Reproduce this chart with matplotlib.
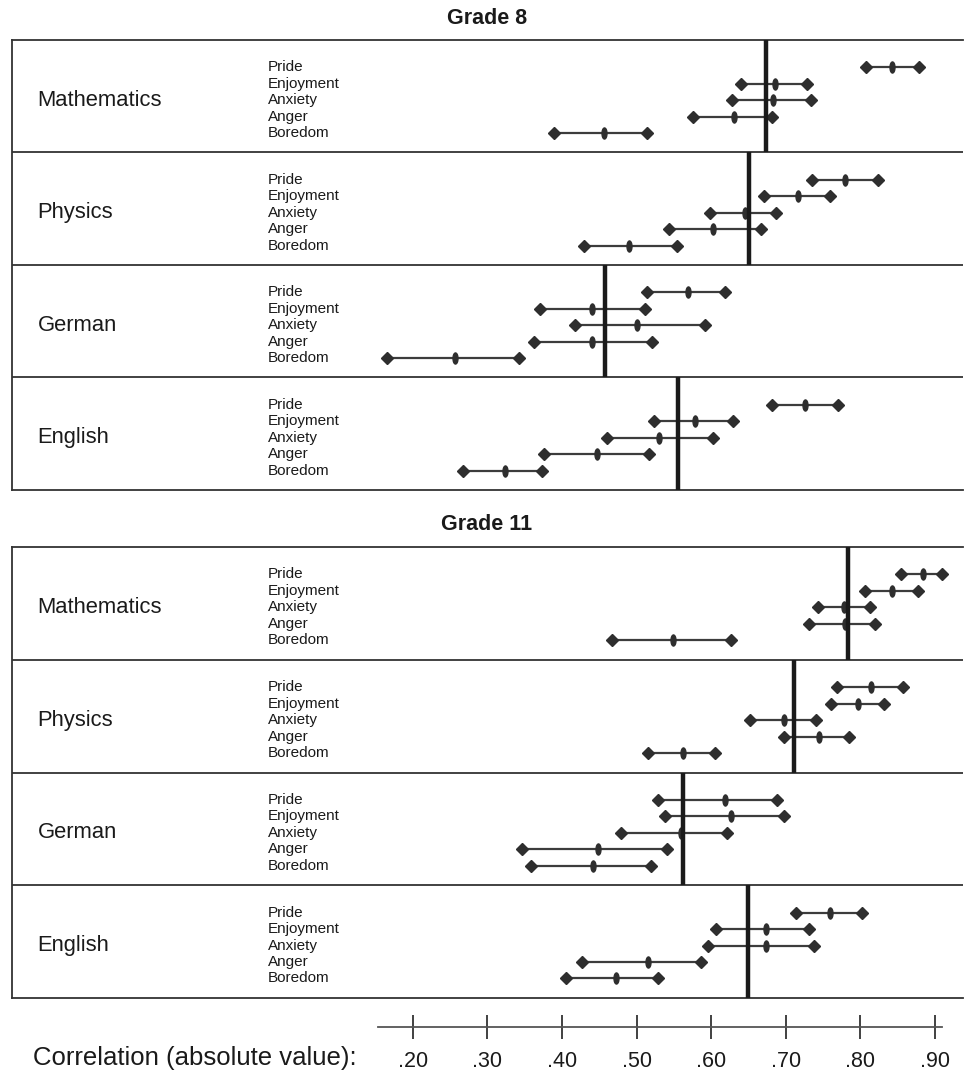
import matplotlib
matplotlib.use("Agg")
import matplotlib.pyplot as plt
import matplotlib.path as mpath
from matplotlib.transforms import Affine2D, blended_transform_factory

plt.rcParams['font.family'] = ['Liberation Sans', 'DejaVu Sans']

subjects = ["Mathematics", "Physics", "German", "English"]
emotions = ["Pride", "Enjoyment", "Anxiety", "Anger", "Boredom"]
tick_values = [0.20, 0.30, 0.40, 0.50, 0.60, 0.70, 0.80, 0.90]
tick_labels = [".20", ".30", ".40", ".50", ".60", ".70", ".80", ".90"]

# Grade 8: lower bound, estimate, upper bound per subject (rows = emotions)
g8_low = [
    [0.807, 0.640, 0.628, 0.575, 0.390],
    [0.735, 0.671, 0.599, 0.543, 0.430],
    [0.514, 0.370, 0.417, 0.362, 0.165],
    [0.681, 0.523, 0.460, 0.376, 0.267],
]
g8_mid = [
    [0.842, 0.685, 0.683, 0.630, 0.456],
    [0.779, 0.717, 0.645, 0.603, 0.490],
    [0.569, 0.440, 0.501, 0.440, 0.257],
    [0.726, 0.579, 0.530, 0.447, 0.324],
]
g8_high = [
    [0.879, 0.728, 0.734, 0.681, 0.514],
    [0.823, 0.759, 0.687, 0.667, 0.554],
    [0.619, 0.511, 0.592, 0.521, 0.342],
    [0.770, 0.629, 0.602, 0.517, 0.373],
]
g8_ref = [0.674, 0.651, 0.458, 0.556]

# Grade 11
g11_low = [
    [0.855, 0.806, 0.743, 0.731, 0.467],
    [0.769, 0.761, 0.652, 0.697, 0.516],
    [0.529, 0.538, 0.479, 0.346, 0.359],
    [0.714, 0.606, 0.596, 0.427, 0.405],
]
g11_mid = [
    [0.884, 0.842, 0.778, 0.780, 0.549],
    [0.814, 0.797, 0.698, 0.744, 0.562],
    [0.618, 0.627, 0.560, 0.449, 0.442],
    [0.759, 0.674, 0.673, 0.516, 0.472],
]
g11_high = [
    [0.910, 0.877, 0.813, 0.820, 0.626],
    [0.857, 0.831, 0.741, 0.785, 0.605],
    [0.688, 0.697, 0.621, 0.541, 0.519],
    [0.802, 0.731, 0.738, 0.587, 0.529],
]
g11_ref = [0.784, 0.711, 0.562, 0.650]

W, H = 964, 1075
fig = plt.figure(figsize=(W / 100, H / 100), dpi=100)

XL = (-0.337, 0.9375)
AX_L, AX_R = 12, 963

ellipse = mpath.Path.unit_circle().transformed(Affine2D().scale(0.45, 1.0))
dark = "#2e2e2e"
linec = "#3c3c3c"


def frac(px_l, px_top, px_r, px_bot):
    return [px_l / W, 1 - px_bot / H, (px_r - px_l) / W, (px_bot - px_top) / H]


def draw_grade(top, bot, title, low, mid, high, ref):
    ax = fig.add_axes(frac(AX_L, top, AX_R, bot))
    ax.set_xlim(*XL)
    ax.set_ylim(4, 0)
    ax.set_xticks([])
    ax.set_yticks([])
    for s in ["top", "bottom", "left"]:
        ax.spines[s].set_linewidth(1.3)
        ax.spines[s].set_color("#333333")
    ax.spines["right"].set_visible(False)
    for k in range(1, 4):
        ax.axhline(k, color="#333333", lw=1.3)
    tr = blended_transform_factory(ax.transAxes, ax.transData)
    for p, subj in enumerate(subjects):
        ys = [p + 0.243 + i * 0.146 for i in range(len(emotions))]
        for i in range(len(emotions)):
            ax.plot([low[p][i], high[p][i]], [ys[i], ys[i]], color=linec, lw=1.6,
                    solid_capstyle="butt", zorder=2)
        ax.plot(low[p], ys, ls="none", marker="D", ms=6.5, color=dark, zorder=3)
        ax.plot(high[p], ys, ls="none", marker="D", ms=6.5, color=dark, zorder=3)
        ax.plot(mid[p], ys, ls="none", marker=ellipse, ms=8, color=dark, zorder=3)
        ax.plot([ref[p], ref[p]], [p, p + 1], color="#1a1a1a", lw=3.2,
                solid_capstyle="butt", zorder=4, clip_on=False)
        ax.text(0.027, ys[2], subj, transform=tr, fontsize=15.8, va="center",
                ha="left", color="#1a1a1a")
        for i, emo in enumerate(emotions):
            ax.text(0.269, ys[i], emo, transform=tr, fontsize=11, va="center",
                    ha="left", color="#1a1a1a")
    fig.text(487 / W, 1 - (top - 22) / H, title, fontsize=15.5, fontweight="bold",
             ha="center", va="center", color="#1a1a1a")
    return ax


draw_grade(40, 490, "Grade 8", g8_low, g8_mid, g8_high, g8_ref)
draw_grade(547, 998, "Grade 11", g11_low, g11_mid, g11_high, g11_ref)

# bottom scale
axs = fig.add_axes(frac(AX_L, 1000, AX_R, 1027))
axs.set_xlim(*XL)
axs.set_ylim(0, 1)
axs.set_yticks([])
for s in ["top", "left", "right"]:
    axs.spines[s].set_visible(False)
axs.patch.set_alpha(0)
axs.spines["bottom"].set_bounds(0.153, 0.91)
axs.spines["bottom"].set_color("#555555")
axs.spines["bottom"].set_linewidth(1.3)
axs.set_xticks(tick_values)
axs.set_xticklabels(tick_labels)
axs.tick_params(axis="x", direction="inout", length=17, width=1.3, color="#333333",
                labelsize=15.5, pad=9, labelcolor="#1a1a1a")
fig.text(33 / W, 1 - 1058 / H, "Correlation (absolute value):", fontsize=18.5,
         ha="left", va="center", color="#1a1a1a")

fig.savefig("out.png", dpi=100)
